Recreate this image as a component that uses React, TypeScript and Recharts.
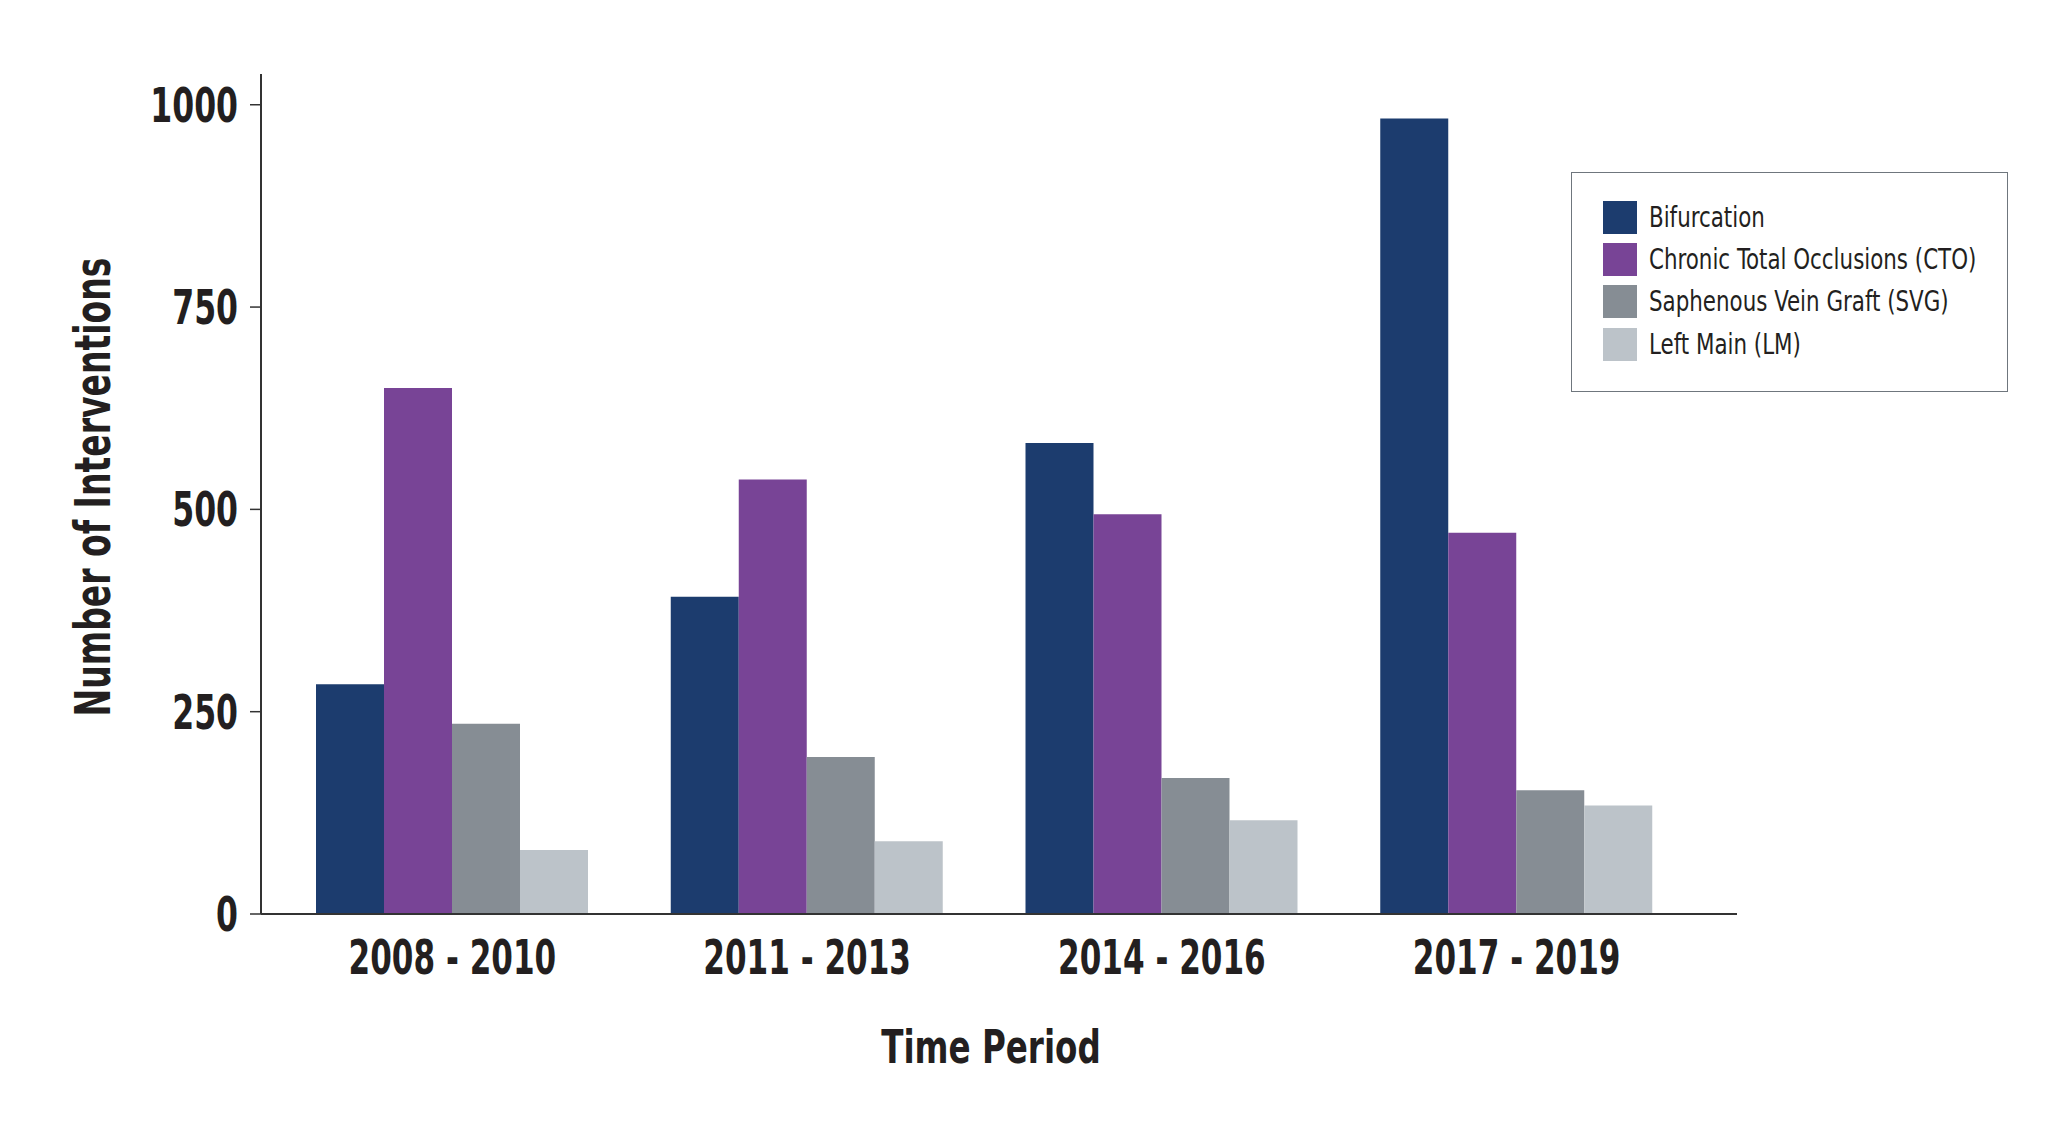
import React from "react";
import { BarChart, Bar, XAxis, YAxis, Legend } from "recharts";

const periods = ["2008 - 2010", "2011 - 2013", "2014 - 2016", "2017 - 2019"];
const bifurcation = [284, 392, 582, 983];
const cto = [650, 537, 494, 471];
const svg = [235, 194, 168, 153];
const lm = [79, 90, 116, 134];
const yTicks = [0, 250, 500, 750, 1000];

const seriesNames = [
  "Bifurcation",
  "Chronic Total Occlusions (CTO)",
  "Saphenous Vein Graft (SVG)",
  "Left Main (LM)",
];
const seriesKeys = ["bif", "cto", "svg", "lm"];
const seriesColors = ["#1c3c6e", "#784496", "#868d94", "#bcc3c9"];

const data = periods.map((p, i) => ({
  period: p,
  bif: bifurcation[i],
  cto: cto[i],
  svg: svg[i],
  lm: lm[i],
}));

const FONT = "'DejaVu Sans Condensed', 'DejaVu Sans', sans-serif";
const TEXT = "#231f20";

const XTick = (props: any) => {
  const { x, y, payload } = props;
  return (
    <text
      transform={`translate(${x} ${y}) scale(0.72 1)`}
      x={0}
      y={60}
      textAnchor="middle"
      fill={TEXT}
      fontFamily={FONT}
      fontWeight={700}
      fontSize={48}
    >
      {payload.value}
    </text>
  );
};

const YTick = (props: any) => {
  const { x, y, payload } = props;
  return (
    <text
      transform={`translate(${x} ${y}) scale(0.73 1)`}
      x={0}
      y={17}
      textAnchor="end"
      fill={TEXT}
      fontFamily={FONT}
      fontWeight={700}
      fontSize={48}
    >
      {payload.value}
    </text>
  );
};

const LegendBox = () => (
  <div
    style={{
      width: 437,
      height: 220,
      boxSizing: "border-box",
      border: "1.5px solid #6f767d",
      paddingTop: 23,
      paddingLeft: 31,
      background: "#fff",
    }}
  >
    {seriesNames.map((name, i) => (
      <div key={name} style={{ display: "flex", alignItems: "center", height: 42.3 }}>
        <div style={{ width: 34, height: 33, flexShrink: 0, background: seriesColors[i], marginRight: 12 }} />
        <span
          style={{
            display: "inline-block",
            fontFamily: FONT,
            fontSize: 29,
            color: TEXT,
            lineHeight: "33px",
            whiteSpace: "nowrap",
            transform: "scaleX(0.82)",
            transformOrigin: "left center",
          }}
        >
          {name}
        </span>
      </div>
    ))}
  </div>
);

export default function App() {
  return (
    <div style={{ position: "absolute", left: 0, top: 0, width: 2048, height: 1128, background: "#fff" }}>
      <BarChart
        width={2048}
        height={1128}
        data={data}
        margin={{ top: 74, right: 311, bottom: 114, left: 61 }}
        barCategoryGap={41}
        barGap={0}
      >
        <XAxis
          dataKey="period"
          height={100}
          padding={{ left: 14, right: 43 }}
          axisLine={{ stroke: "#333", strokeWidth: 2 }}
          tickLine={false}
          tickSize={0}
          tickMargin={0}
          tick={<XTick />}
          interval={0}
        />
        <YAxis
          width={200}
          domain={[0, 1038]}
          ticks={yTicks}
          allowDataOverflow
          axisLine={{ stroke: "#333", strokeWidth: 2 }}
          tickLine={{ stroke: "#333", strokeWidth: 1.5 }}
          tickSize={11}
          tickMargin={12}
          tick={<YTick />}
        />
        <Legend
          layout="horizontal"
          verticalAlign="middle"
          align="center"
          wrapperStyle={{ position: "absolute", left: 1571, top: 172, width: 437, height: 220 }}
          content={<LegendBox />}
        />
        {seriesKeys.map((k, i) => (
          <Bar key={k} dataKey={k} name={seriesNames[i]} fill={seriesColors[i]} isAnimationActive={false} />
        ))}
        <text
          transform="translate(110 487) rotate(-90) scale(0.75 1)"
          x={0}
          y={0}
          textAnchor="middle"
          fill={TEXT}
          fontFamily={FONT}
          fontWeight={700}
          fontSize={49}
        >
          Number of Interventions
        </text>
        <text
          transform="translate(991 1063) scale(0.77 1)"
          x={0}
          y={0}
          textAnchor="middle"
          fill={TEXT}
          fontFamily={FONT}
          fontWeight={700}
          fontSize={47}
        >
          Time Period
        </text>
      </BarChart>
    </div>
  );
}
